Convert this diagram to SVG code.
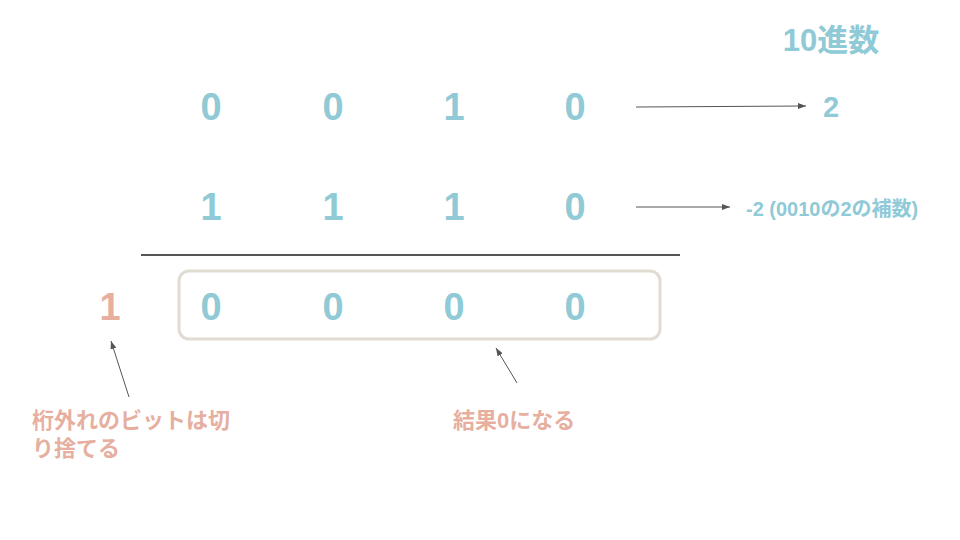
<svg xmlns="http://www.w3.org/2000/svg" width="960" height="540" viewBox="0 0 960 540">
<style>
.d{font-family:"Liberation Sans",Arial,sans-serif;font-weight:bold;font-size:38px;fill:#8FCAD6;text-anchor:middle}
.t{font-family:"Liberation Sans","Noto Sans CJK JP",sans-serif;font-weight:bold;fill:#8FCAD6}
.s{font-family:"Liberation Sans","Noto Sans CJK JP",sans-serif;font-weight:bold;font-size:22px;fill:#E6AF9F}
.c{stroke:#555;stroke-width:1;fill:none;marker-end:url(#a)}
</style>
<defs>
<marker id="a" markerWidth="8" markerHeight="6" refX="8" refY="3" orient="auto" markerUnits="userSpaceOnUse">
<path d="M0,0 L8,3 L0,6 z" fill="#555"/>
</marker>
</defs>
<rect width="960" height="540" fill="#fff"/>
<g id="row1">
<text class="d" x="211" y="120">0</text>
<text class="d" x="333" y="120">0</text>
<text class="d" x="454" y="120">1</text>
<text class="d" x="575" y="120">0</text>
</g>
<g id="row2">
<text class="d" x="211" y="220">1</text>
<text class="d" x="333" y="220">1</text>
<text class="d" x="454" y="220">1</text>
<text class="d" x="575" y="220">0</text>
</g>
<line x1="141" y1="255" x2="680" y2="255" stroke="#555" stroke-width="2"/>
<g id="result">
<rect x="179" y="271" width="481" height="68" rx="10" fill="none" stroke="#E1DCD2" stroke-width="3"/>
<text class="d" x="211" y="320">0</text>
<text class="d" x="333" y="320">0</text>
<text class="d" x="454" y="320">0</text>
<text class="d" x="575" y="320">0</text>
</g>
<g id="carry"><text class="d" x="110" y="320" style="fill:#E6AF9F">1</text></g>
<g id="title"><text class="t" x="831" y="51" font-size="31" text-anchor="middle">10進数</text></g>
<g id="val2"><text class="t" x="831" y="117" font-size="29" text-anchor="middle">2</text></g>
<g id="valm2"><text class="t" x="746" y="216" font-size="20">-2 (0010の2の補数)</text></g>
<g id="note1"><text class="s" x="32" y="428">桁外れのビットは切</text><text class="s" x="32" y="456">り捨てる</text></g>
<g id="note2"><text class="s" x="453" y="428">結果0になる</text></g>
<g id="connectors">
<line class="c" x1="636" y1="107" x2="806" y2="106"/>
<line class="c" x1="636" y1="207" x2="730" y2="207"/>
<line class="c" x1="129" y1="397" x2="111" y2="341"/>
<line class="c" x1="517" y1="383" x2="496" y2="348"/>
</g>
</svg>
